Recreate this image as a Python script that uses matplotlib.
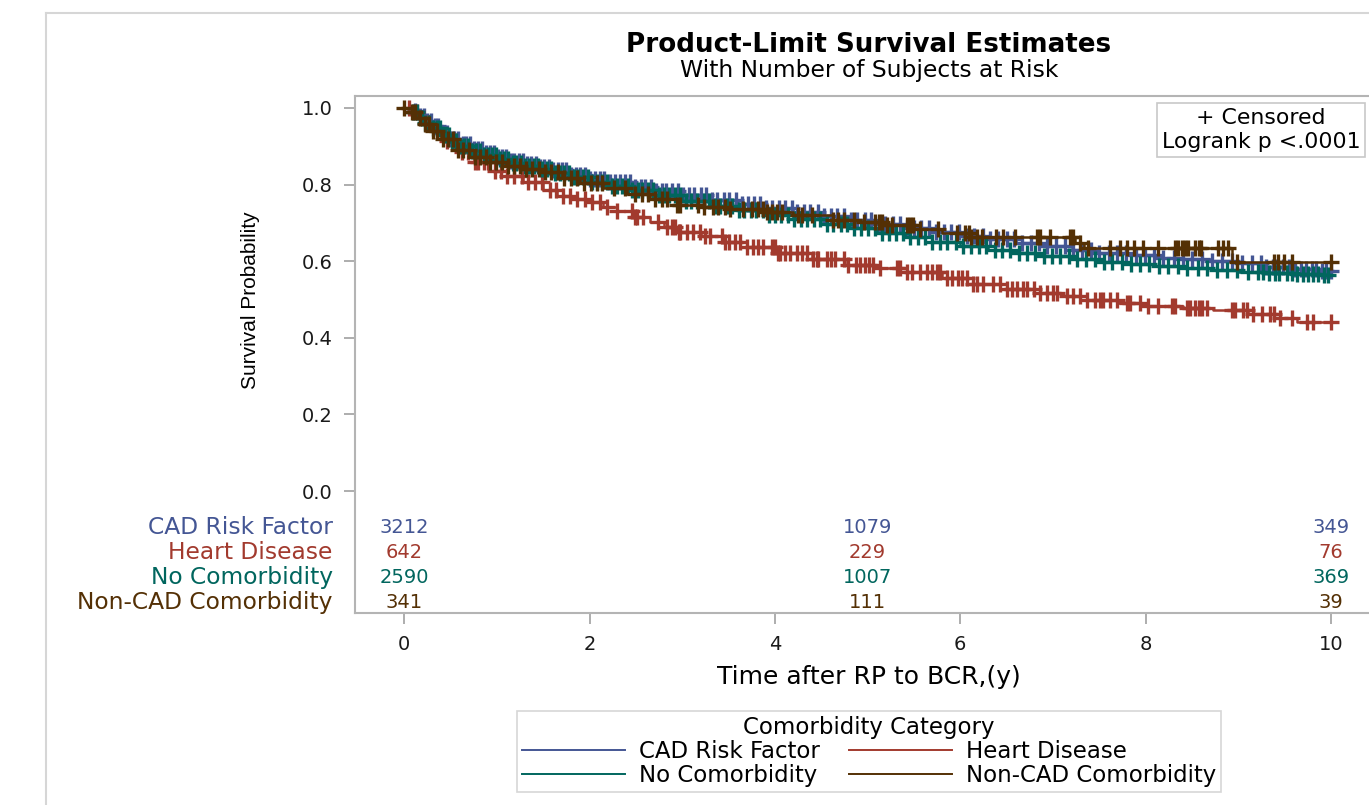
import numpy as np
import matplotlib
matplotlib.use("Agg")
import matplotlib.pyplot as plt
from matplotlib.lines import Line2D

# groups and colours (SAS HTMLBlue data colours)
groups = ["CAD Risk Factor", "Heart Disease", "No Comorbidity", "Non-CAD Comorbidity"]
colors = ["#445694", "#A23A2E", "#01665E", "#543005"]

# number at risk at 0, 5 and 10 years
risk_times = [0, 5, 10]
risk_cad = [3212, 1079, 349]
risk_hd = [642, 229, 76]
risk_no = [2590, 1007, 369]
risk_nc = [341, 111, 39]

# product-limit estimates: step start times (years) and survival after each step
t_cad = [0, 0.08, 0.15, 0.22, 0.3, 0.4, 0.5, 0.6, 0.72, 0.85, 1.0, 1.15, 1.3, 1.45, 1.6,
         1.8, 2.0, 2.2, 2.45, 2.7, 3.0, 3.3, 3.6, 3.9, 4.2, 4.5, 4.8, 5.1, 5.4, 5.7,
         6.0, 6.3, 6.6, 6.9, 7.2, 7.5, 7.8, 8.1, 8.4, 8.7, 9.0, 9.3, 9.6, 9.9]
s_cad = [1.0, 0.993, 0.98, 0.966, 0.952, 0.935, 0.92, 0.906, 0.893, 0.882, 0.872, 0.862,
         0.853, 0.845, 0.837, 0.826, 0.815, 0.806, 0.795, 0.784, 0.772, 0.76, 0.749,
         0.738, 0.728, 0.718, 0.707, 0.697, 0.686, 0.676, 0.666, 0.657, 0.648, 0.639,
         0.63, 0.622, 0.615, 0.609, 0.605, 0.601, 0.594, 0.586, 0.58, 0.575]

t_hd = [0, 0.08, 0.15, 0.22, 0.3, 0.45, 0.6, 0.75, 0.93, 1.05, 1.28, 1.5, 1.65, 1.85,
        2.0, 2.15, 2.3, 2.47, 2.65, 2.8, 2.94, 3.2, 3.44, 3.7, 4.02, 4.4, 4.78, 5.1,
        5.43, 5.8, 6.14, 6.5, 6.86, 7.1, 7.37, 7.7, 8.0, 8.4, 8.73, 9.1, 9.45, 9.63]
s_hd = [1.0, 0.99, 0.975, 0.96, 0.945, 0.915, 0.885, 0.858, 0.835, 0.822, 0.807, 0.786,
        0.77, 0.762, 0.755, 0.742, 0.73, 0.715, 0.702, 0.688, 0.676, 0.665, 0.65, 0.638,
        0.622, 0.605, 0.59, 0.582, 0.572, 0.555, 0.54, 0.528, 0.517, 0.508, 0.499, 0.49,
        0.484, 0.478, 0.472, 0.463, 0.453, 0.44]

t_no = [0, 0.08, 0.15, 0.22, 0.3, 0.4, 0.5, 0.6, 0.72, 0.85, 1.0, 1.15, 1.3, 1.45, 1.6,
        1.8, 2.0, 2.2, 2.45, 2.7, 3.0, 3.3, 3.6, 3.9, 4.2, 4.5, 4.8, 5.1, 5.4, 5.7,
        6.0, 6.3, 6.6, 6.9, 7.2, 7.5, 7.8, 8.1, 8.4, 8.7, 9.0, 9.3, 9.6, 9.9]
s_no = [1.0, 0.99, 0.975, 0.962, 0.948, 0.93, 0.914, 0.9, 0.887, 0.877, 0.867, 0.857,
        0.848, 0.84, 0.831, 0.82, 0.808, 0.797, 0.785, 0.773, 0.758, 0.745, 0.733,
        0.721, 0.71, 0.698, 0.686, 0.674, 0.663, 0.651, 0.64, 0.63, 0.621, 0.613,
        0.605, 0.598, 0.592, 0.587, 0.582, 0.577, 0.573, 0.57, 0.567, 0.565]

t_nc = [0, 0.08, 0.15, 0.22, 0.3, 0.4, 0.57, 0.75, 0.93, 1.1, 1.3, 1.47, 1.7, 1.9, 2.15,
        2.4, 2.65, 2.94, 3.2, 3.5, 3.9, 4.2, 4.63, 4.9, 5.2, 5.5, 5.8, 6.1, 7.24, 7.33,
        8.93]
s_nc = [1.0, 0.99, 0.975, 0.958, 0.94, 0.918, 0.89, 0.872, 0.859, 0.848, 0.84, 0.833,
        0.818, 0.805, 0.79, 0.776, 0.762, 0.748, 0.741, 0.735, 0.728, 0.72, 0.707,
        0.702, 0.694, 0.685, 0.674, 0.663, 0.648, 0.635, 0.598]

# censoring times (years)
cens_cad = [0.12, 0.17, 0.21, 0.25, 0.29, 0.33, 0.37, 0.42, 0.46, 0.5, 0.54, 0.58, 0.63,
            0.67, 0.71, 0.75, 0.8, 0.84, 0.88, 0.93, 0.97, 1.01, 1.06, 1.1, 1.15, 1.19,
            1.24, 1.28, 1.33, 1.37, 1.42, 1.47, 1.51, 1.56, 1.61, 1.66, 1.7, 1.75, 1.8,
            1.85, 1.9, 1.95, 2.0, 2.06, 2.11, 2.16, 2.22, 2.27, 2.33, 2.38, 2.44, 2.49,
            2.55, 2.6, 2.66, 2.72, 2.78, 2.83, 2.89, 2.95, 3.01, 3.07, 3.13, 3.2, 3.26,
            3.32, 3.38, 3.45, 3.51, 3.58, 3.64, 3.71, 3.77, 3.84, 3.9, 3.97, 4.04, 4.11,
            4.18, 4.24, 4.31, 4.38, 4.46, 4.53, 4.6, 4.67, 4.74, 4.82, 4.89, 4.97, 5.04,
            5.12, 5.19, 5.27, 5.35, 5.42, 5.5, 5.58, 5.66, 5.74, 5.82, 5.9, 5.99, 6.07,
            6.15, 6.24, 6.32, 6.41, 6.5, 6.58, 6.67, 6.76, 6.85, 6.94, 7.03, 7.13, 7.22,
            7.31, 7.41, 7.5, 7.6, 7.69, 7.79, 7.89, 7.99, 8.09, 8.19, 8.3, 8.4, 8.5, 8.61,
            8.72, 8.82, 8.93, 9.04, 9.15, 9.24, 9.3, 9.37, 9.42, 9.48, 9.55, 9.61, 9.67,
            9.73, 9.79, 9.84, 9.9, 9.95, 10.0]

cens_hd = [0.05, 0.14, 0.26, 0.38, 0.46, 0.55, 0.62, 0.69, 0.76, 0.8, 0.86, 0.91, 0.98,
           1.04, 1.11, 1.19, 1.27, 1.34, 1.41, 1.49, 1.57, 1.64, 1.71, 1.79, 1.87, 1.95,
           2.03, 2.11, 2.19, 2.3, 2.46, 2.49, 2.51, 2.58, 2.74, 2.84, 2.89, 2.92, 2.96,
           2.98, 3.05, 3.12, 3.19, 3.25, 3.3, 3.43, 3.46, 3.5, 3.57, 3.62, 3.7, 3.76,
           3.82, 3.87, 3.97, 4.0, 4.03, 4.06, 4.11, 4.16, 4.24, 4.29, 4.35, 4.41, 4.45,
           4.47, 4.56, 4.6, 4.65, 4.74, 4.79, 4.87, 4.92, 4.97, 5.01, 5.06, 5.13, 5.32,
           5.35, 5.43, 5.48, 5.57, 5.64, 5.7, 5.75, 5.78, 5.86, 5.91, 5.98, 6.02, 6.07,
           6.14, 6.18, 6.25, 6.35, 6.43, 6.5, 6.56, 6.61, 6.68, 6.72, 6.79, 6.86, 6.94,
           7.0, 7.04, 7.15, 7.22, 7.29, 7.37, 7.45, 7.51, 7.54, 7.62, 7.69, 7.8, 7.83,
           7.94, 8.02, 8.13, 8.28, 8.32, 8.45, 8.48, 8.53, 8.57, 8.61, 8.66, 8.93, 8.96,
           9.05, 9.09, 9.16, 9.25, 9.34, 9.38, 9.45, 9.58, 9.74, 9.81, 10.0]

cens_no = [0.1, 0.14, 0.19, 0.23, 0.27, 0.31, 0.35, 0.39, 0.44, 0.48, 0.52, 0.56, 0.6,
           0.65, 0.69, 0.73, 0.77, 0.82, 0.86, 0.9, 0.95, 0.99, 1.03, 1.08, 1.12, 1.17,
           1.21, 1.26, 1.3, 1.35, 1.4, 1.44, 1.49, 1.54, 1.58, 1.63, 1.68, 1.73, 1.78,
           1.83, 1.88, 1.93, 1.98, 2.03, 2.08, 2.14, 2.19, 2.24, 2.3, 2.35, 2.41, 2.46,
           2.52, 2.57, 2.63, 2.69, 2.75, 2.8, 2.86, 2.92, 2.98, 3.04, 3.1, 3.16, 3.23,
           3.29, 3.35, 3.41, 3.48, 3.54, 3.61, 3.67, 3.74, 3.8, 3.87, 3.94, 4.0, 4.07,
           4.14, 4.21, 4.28, 4.35, 4.42, 4.49, 4.56, 4.63, 4.71, 4.78, 4.85, 4.93, 5.0,
           5.08, 5.15, 5.23, 5.31, 5.38, 5.46, 5.54, 5.62, 5.7, 5.78, 5.86, 5.95, 6.03,
           6.11, 6.2, 6.28, 6.37, 6.45, 6.54, 6.63, 6.72, 6.81, 6.9, 6.99, 7.08, 7.17,
           7.26, 7.36, 7.45, 7.55, 7.64, 7.74, 7.84, 7.94, 8.04, 8.14, 8.24, 8.35, 8.45,
           8.56, 8.66, 8.77, 8.88, 8.99, 9.1, 9.21, 9.27, 9.33, 9.4, 9.44, 9.52, 9.58,
           9.63, 9.7, 9.75, 9.81, 9.86, 9.92, 9.97]

cens_nc = [0.0, 0.08, 0.12, 0.17, 0.22, 0.27, 0.31, 0.36, 0.42, 0.47, 0.53, 0.58, 0.64,
           0.7, 0.76, 0.82, 0.88, 0.93, 0.99, 1.06, 1.12, 1.18, 1.25, 1.31, 1.38, 1.45,
           1.52, 1.58, 1.66, 1.73, 1.8, 1.87, 1.94, 2.02, 2.08, 2.13, 2.26, 2.38, 2.49,
           2.57, 2.63, 2.71, 2.78, 2.84, 2.94, 2.98, 3.17, 3.23, 3.33, 3.39, 3.46, 3.52,
           3.66, 3.75, 3.82, 3.87, 3.91, 3.97, 4.02, 4.08, 4.25, 4.29, 4.4, 4.63, 4.68,
           4.74, 4.85, 4.96, 5.08, 5.12, 5.16, 5.21, 5.26, 5.42, 5.46, 5.49, 5.57, 5.76,
           5.96, 6.05, 6.09, 6.12, 6.18, 6.23, 6.38, 6.46, 6.59, 6.83, 6.86, 6.97, 7.18,
           7.22, 7.29, 7.38, 7.62, 7.72, 7.8, 7.87, 7.97, 8.13, 8.32, 8.35, 8.39, 8.42,
           8.46, 8.53, 8.57, 8.6, 8.78, 8.83, 8.89, 8.99, 9.38, 9.43, 9.49, 9.58, 10.0]

curves = [(t_cad, s_cad, cens_cad), (t_hd, s_hd, cens_hd),
          (t_no, s_no, cens_no), (t_nc, s_nc, cens_nc)]
at_risk = [risk_cad, risk_hd, risk_no, risk_nc]


def km_at(t_knots, s_knots, times):
    """Survival estimate of a step curve at the given times."""
    idx = np.searchsorted(t_knots, times, side="right") - 1
    return np.asarray(s_knots)[idx]


W, H = 1369, 805
fig = plt.figure(figsize=(W / 100, H / 100), dpi=100)
fig.patch.set_facecolor("white")

# outer graph frame
fig.add_artist(Line2D([46 / W, 46 / W], [0, 1 - 13 / H], color="#d6d6d6", lw=1.5))
fig.add_artist(Line2D([46 / W, 1], [1 - 13 / H, 1 - 13 / H], color="#d6d6d6", lw=1.5))

ax = fig.add_axes([355 / W, 1 - 613 / H, (1383 - 355) / W, (613 - 96) / H])
ax.set_xlim(-0.53, 10.56)
ax.set_ylim(-0.3185, 1.0313)

for (t, s, cens), col in zip(curves, colors):
    t_end = max(cens)
    ax.step(list(t) + [t_end], list(s) + [s[-1]], where="post", color=col, lw=1.8)
    ax.plot(cens, km_at(t, s, cens), ls="none", marker="+", ms=11, mew=2.4, color=col)

# number-at-risk table inside the plot area
row_y = [-0.094, -0.16, -0.227, -0.292]
for counts, name, col, y in zip(at_risk, groups, colors, row_y):
    ax.text(-0.77, y, name, ha="right", va="center", color=col, fontsize=16.8,
            clip_on=False)
    for x, n in zip(risk_times, counts):
        ax.text(x, y, str(n), ha="center", va="center", color=col, fontsize=14)

ax.set_xticks([0, 2, 4, 6, 8, 10])
ax.set_yticks([0.0, 0.2, 0.4, 0.6, 0.8, 1.0])
ax.set_yticklabels(["0.0", "0.2", "0.4", "0.6", "0.8", "1.0"])
ax.tick_params(axis="both", colors="#a0a0a0", labelcolor="#1a1a1a", labelsize=14,
               length=8, width=1.2)
ax.tick_params(axis="x", pad=8)
ax.tick_params(axis="y", pad=8)
for side in ["left", "bottom", "top", "right"]:
    ax.spines[side].set_color("#b4b4b4")
    ax.spines[side].set_linewidth(1.5)

fig.text(869 / W, 1 - 45 / H, "Product-Limit Survival Estimates", ha="center",
         va="center", fontsize=18.8, fontweight="bold")
fig.text(869 / W, 1 - 71 / H, "With Number of Subjects at Risk", ha="center",
         va="center", fontsize=16.8)
fig.text(869 / W, 1 - 677 / H, "Time after RP to BCR,(y)", ha="center", va="center",
         fontsize=18)
fig.text(250 / W, 1 - 300 / H, "Survival Probability", ha="center", va="center",
         rotation=90, fontsize=15, family=["Liberation Sans", "DejaVu Sans"])

# censoring / logrank inset
fig.text(1261 / W, 1 - 130 / H, "+ Censored\nLogrank p <.0001", ha="center",
         va="center", fontsize=15.8, linespacing=1.25, multialignment="center",
         bbox=dict(boxstyle="square,pad=0.22", fc="white", ec="#c8c8c8", lw=1.2))

handles = [Line2D([], [], color=c, lw=1.4) for c in colors]
order = [0, 2, 1, 3]
leg = fig.legend([handles[i] for i in order], [groups[i] for i in order], ncol=2,
                 loc="upper center", bbox_to_anchor=(869 / W, 1 - 700 / H),
                 title="Comorbidity Category", fontsize=16.5, title_fontsize=16.5,
                 frameon=True, fancybox=False, edgecolor="#cccccc", handlelength=4.5,
                 handletextpad=0.6, columnspacing=1.3, labelspacing=0.05,
                 borderpad=0.2)
leg.get_frame().set_linewidth(1.2)

fig.savefig("out.png", dpi=100)
